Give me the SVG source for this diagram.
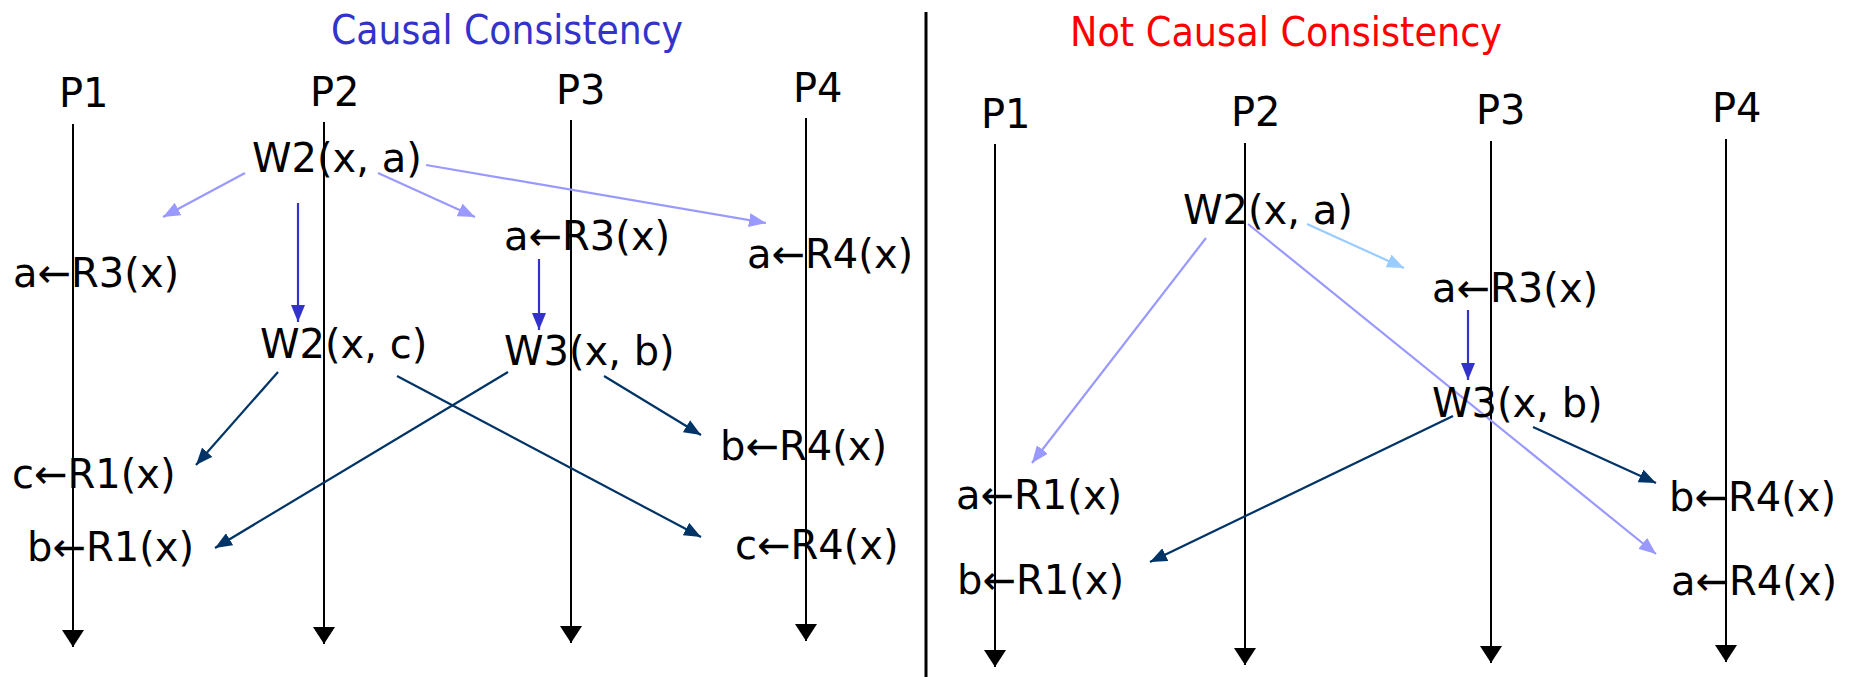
<svg xmlns="http://www.w3.org/2000/svg" width="1854" height="677" viewBox="0 0 1854 677">
<defs>
<style>
text{font-family:"DejaVu Sans","Liberation Sans",sans-serif;font-size:40px;fill:#000}
.title{font-size:40px}
.life{stroke:#000;stroke-width:2;fill:none;marker-end:url(#mBlack)}
.c{stroke-width:2.2;fill:none}
.light{stroke:#9999FF;marker-end:url(#mLight)}
.lblue{stroke:#99CCFF;marker-end:url(#mLblue)}
.blue{stroke:#3333CC;marker-end:url(#mBlue)}
.navy{stroke:#003366;marker-end:url(#mNavy)}
</style>
<marker id="mBlack" markerUnits="userSpaceOnUse" markerWidth="17" markerHeight="22" refX="17" refY="11" orient="auto"><path d="M0,0 L17,11 L0,22 z" fill="#000"/></marker>
<marker id="mLight" markerUnits="userSpaceOnUse" markerWidth="17" markerHeight="14" refX="17" refY="7" orient="auto"><path d="M0,0 L17,7 L0,14 z" fill="#9999FF"/></marker>
<marker id="mLblue" markerUnits="userSpaceOnUse" markerWidth="17" markerHeight="14" refX="17" refY="7" orient="auto"><path d="M0,0 L17,7 L0,14 z" fill="#99CCFF"/></marker>
<marker id="mBlue" markerUnits="userSpaceOnUse" markerWidth="17" markerHeight="14" refX="17" refY="7" orient="auto"><path d="M0,0 L17,7 L0,14 z" fill="#3333CC"/></marker>
<marker id="mNavy" markerUnits="userSpaceOnUse" markerWidth="17" markerHeight="14" refX="17" refY="7" orient="auto"><path d="M0,0 L17,7 L0,14 z" fill="#003366"/></marker>
</defs>
<rect width="1854" height="677" fill="#fff"/>
<line x1="926" y1="12" x2="926" y2="677" stroke="#000" stroke-width="3"/>
<g id="lifelines">
<line class="life" x1="73" y1="124" x2="73" y2="647"/>
<line class="life" x1="324" y1="122" x2="324" y2="644"/>
<line class="life" x1="571" y1="120" x2="571" y2="643"/>
<line class="life" x1="806" y1="118" x2="806" y2="641"/>
<line class="life" x1="995" y1="144" x2="995" y2="667"/>
<line class="life" x1="1245" y1="143" x2="1245" y2="665"/>
<line class="life" x1="1491" y1="141" x2="1491" y2="663"/>
<line class="life" x1="1726" y1="139" x2="1726" y2="662"/>
</g>
<g id="connectors">
<line class="c light" x1="245" y1="173" x2="163" y2="217"/>
<line class="c light" x1="378" y1="173" x2="475" y2="217"/>
<line class="c light" x1="426" y1="165" x2="766" y2="223"/>
<line class="c blue" x1="298" y1="203" x2="298" y2="322"/>
<line class="c blue" x1="539" y1="259" x2="539" y2="330"/>
<line class="c navy" x1="278" y1="372" x2="196" y2="465"/>
<line class="c navy" x1="397" y1="376" x2="701" y2="537"/>
<line class="c navy" x1="508" y1="372" x2="215" y2="548"/>
<line class="c navy" x1="604" y1="376" x2="701" y2="435"/>
<line class="c lblue" x1="1307" y1="224" x2="1404" y2="268"/>
<line class="c light" x1="1206" y1="238" x2="1032" y2="463"/>
<line class="c light" x1="1248" y1="224" x2="1656" y2="554"/>
<line class="c blue" x1="1468" y1="310" x2="1468" y2="380"/>
<line class="c navy" x1="1453" y1="416" x2="1150" y2="562"/>
<line class="c navy" x1="1533" y1="427" x2="1656" y2="483"/>
</g>
<g id="title-left"><text class="title" x="331" y="44" textLength="352" lengthAdjust="spacingAndGlyphs" style="fill:#3333CC">Causal Consistency</text></g>
<g id="title-right"><text class="title" x="1070" y="46" textLength="432" lengthAdjust="spacingAndGlyphs" style="fill:#FF0000">Not Causal Consistency</text></g>
<g id="L-P1"><text x="59" y="107">P1</text></g>
<g id="L-P2"><text x="310" y="106">P2</text></g>
<g id="L-P3"><text x="556" y="104">P3</text></g>
<g id="L-P4"><text x="793" y="102">P4</text></g>
<g id="L-W2a"><text x="252" y="172">W2(x, a)</text></g>
<g id="L-R3-P1"><text x="13" y="287">a←R3(x)</text></g>
<g id="L-R3-P3"><text x="504" y="250">a←R3(x)</text></g>
<g id="L-R4a"><text x="747" y="268">a←R4(x)</text></g>
<g id="L-W2c"><text x="260" y="358">W2(x, c)</text></g>
<g id="L-W3b"><text x="504" y="365">W3(x, b)</text></g>
<g id="L-R4b"><text x="720" y="460">b←R4(x)</text></g>
<g id="L-R1c"><text x="12" y="488">c←R1(x)</text></g>
<g id="L-R1b"><text x="27" y="561">b←R1(x)</text></g>
<g id="L-R4c"><text x="735" y="559">c←R4(x)</text></g>
<g id="R-P1"><text x="981" y="128">P1</text></g>
<g id="R-P2"><text x="1231" y="126">P2</text></g>
<g id="R-P3"><text x="1476" y="124">P3</text></g>
<g id="R-P4"><text x="1712" y="122">P4</text></g>
<g id="R-W2a"><text x="1183" y="224">W2(x, a)</text></g>
<g id="R-R3a"><text x="1432" y="302">a←R3(x)</text></g>
<g id="R-W3b"><text x="1432" y="417">W3(x, b)</text></g>
<g id="R-R1a"><text x="956" y="509">a←R1(x)</text></g>
<g id="R-R1b"><text x="957" y="594">b←R1(x)</text></g>
<g id="R-R4b"><text x="1669" y="511">b←R4(x)</text></g>
<g id="R-R4a"><text x="1671" y="595">a←R4(x)</text></g>
</svg>
